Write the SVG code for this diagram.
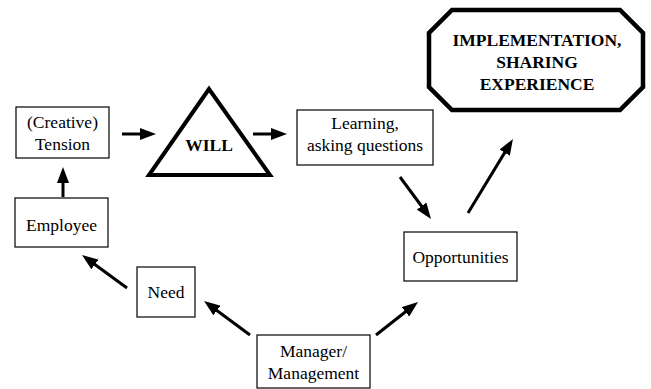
<svg xmlns="http://www.w3.org/2000/svg" width="651" height="389" viewBox="0 0 651 389">
<style>
.box{fill:#fff;stroke:#000;stroke-width:1.2}
.t{font-family:"Liberation Serif","Times New Roman",serif;font-size:17.5px;fill:#000;text-anchor:middle}
.b{font-weight:bold}
.c{stroke:#000;stroke-width:3;fill:none}
</style>
<defs>
<marker id="ah" markerUnits="userSpaceOnUse" markerWidth="17" markerHeight="12" refX="3" refY="6" orient="auto">
<path d="M0,0 L16,6 L0,12 z" fill="#000"/>
</marker>
</defs>
<rect width="651" height="389" fill="#fff"/>
<g id="tension"><rect class="box" x="16" y="107" width="93" height="51"/><text class="t" x="62.5" y="128">(Creative)</text><text class="t" x="62.5" y="150">Tension</text></g>
<g id="will"><polygon points="209,89 149,175 270,175" fill="#fff" stroke="#000" stroke-width="4" stroke-linejoin="miter"/><text class="t b" x="209" y="151">WILL</text></g>
<g id="learning"><rect class="box" x="297" y="110" width="136" height="55"/><text class="t" x="365" y="129">Learning,</text><text class="t" x="365" y="151">asking questions</text></g>
<g id="implementation"><polygon points="452,10 620,10 643,33 643,87 620,110 452,110 429,87 429,33" fill="#fff" stroke="#000" stroke-width="4.5"/><text class="t b" x="537" y="46">IMPLEMENTATION,</text><text class="t b" x="537" y="68">SHARING</text><text class="t b" x="537" y="90">EXPERIENCE</text></g>
<g id="opportunities"><rect class="box" x="404" y="232" width="113" height="49"/><text class="t" x="460.5" y="263">Opportunities</text></g>
<g id="manager"><rect class="box" x="257" y="335" width="113" height="53"/><text class="t" x="313.5" y="357">Manager/</text><text class="t" x="313.5" y="379">Management</text></g>
<g id="need"><rect class="box" x="137" y="267" width="58" height="50"/><text class="t" x="166" y="298">Need</text></g>
<g id="employee"><rect class="box" x="15" y="198" width="93" height="49"/><text class="t" x="61.5" y="231">Employee</text></g>
<g id="connectors">
<line class="c" x1="122" y1="134" x2="143" y2="134" marker-end="url(#ah)"/>
<line class="c" x1="253" y1="134" x2="274" y2="134" marker-end="url(#ah)"/>
<line class="c" x1="400" y1="177" x2="423.3" y2="208.5" marker-end="url(#ah)"/>
<line class="c" x1="468" y1="213" x2="506.2" y2="150.1" marker-end="url(#ah)"/>
<line class="c" x1="376" y1="335" x2="407.8" y2="310" marker-end="url(#ah)"/>
<line class="c" x1="250" y1="335" x2="214.5" y2="308.7" marker-end="url(#ah)"/>
<line class="c" x1="127" y1="288" x2="92.5" y2="262.7" marker-end="url(#ah)"/>
<line class="c" x1="63" y1="197" x2="63" y2="180" marker-end="url(#ah)"/>
</g>
</svg>
